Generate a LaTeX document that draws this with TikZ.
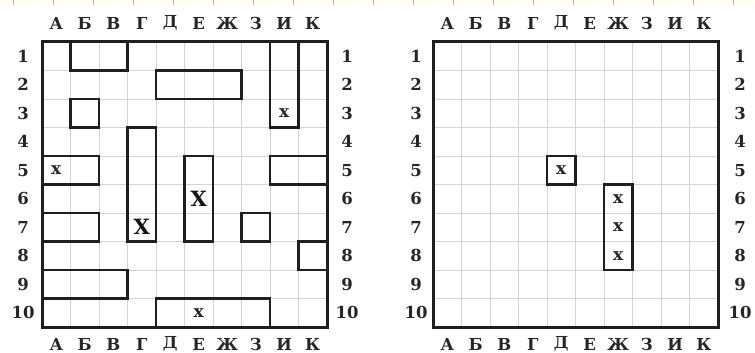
\documentclass[tikz,border=0pt]{standalone}
\usepackage{fontspec}
\newfontfamily\labfont{DejaVu Serif}
\begin{document}
\begin{tikzpicture}[x=1pt,y=-1pt,
  lab/.style={font=\labfont\bfseries\fontsize{16.5}{16.5}\selectfont, text=black!85, inner sep=0pt},
  gridline/.style={draw=black!17, line width=0.8pt},
  frame/.style={draw=black!88, line width=3pt},
  ship/.style={draw=black!88, line width=2.5pt},
  hit/.style={font=\labfont\bfseries\fontsize{17}{17}\selectfont, text=black!85, inner sep=0pt},
  bighit/.style={font=\labfont\bfseries\fontsize{21}{21}\selectfont, text=black!92, inner sep=0pt},
  paper/.style={fill=yellow!6!white, draw=none},
  papertick/.style={draw=black!25, line width=0.7pt}]
\useasboundingbox (0,0) rectangle (755,353);
% faint notebook paper strip at the top
\fill[paper] (0,0) rectangle (755,5);
\foreach \k in {0,...,18} \draw[papertick] ({13+40*\k},0) -- ({13+40*\k},5);
\def\cs{28.5}
% ---------- grids ----------
\foreach \gx/\g in {42/L,433/R}{
  \foreach \i in {1,...,9}{
    \draw[gridline] ({\gx+\i*\cs},42) -- ({\gx+\i*\cs},{42+10*\cs});
    \draw[gridline] (\gx,{42+\i*\cs}) -- ({\gx+10*\cs},{42+\i*\cs});
  }
}
% ---------- labels ----------
\foreach \l [count=\i] in {А,Б,В,Г,Д,Е,Ж,З,И,К}{
  \node[lab] (Ltop\i) at ({42+(\i-0.5)*\cs},23) {\l};
  \node[lab] (Lbot\i) at ({42+(\i-0.5)*\cs},344) {\l};
  \node[lab] (Rtop\i) at ({433+(\i-0.5)*\cs},23) {\l};
  \node[lab] (Rbot\i) at ({433+(\i-0.5)*\cs},344) {\l};
}
\foreach \i in {1,...,10}{
  \node[lab] (Lleft\i) at (23,{42+(\i-0.5)*\cs}) {\i};
  \node[lab] (Lright\i) at (347,{42+(\i-0.5)*\cs}) {\i};
  \node[lab] (Rleft\i) at (416,{42+(\i-0.5)*\cs}) {\i};
  \node[lab] (Rright\i) at (740,{42+(\i-0.5)*\cs}) {\i};
}
% ---------- ships, left grid ----------
\foreach \ca/\ra/\cb/\rb in {2/1/3/1, 5/2/7/2, 9/1/9/3, 2/3/2/3, 4/4/4/7, 6/5/6/7,
                             1/5/2/5, 9/5/10/5, 1/7/2/7, 8/7/8/7, 10/8/10/8, 1/9/3/9, 5/10/8/10}{
  \draw[ship] ({42+(\ca-1)*\cs},{42+(\ra-1)*\cs}) rectangle ({42+\cb*\cs},{42+\rb*\cs});
}
% ---------- ships, right grid ----------
\foreach \ca/\ra/\cb/\rb in {5/5/5/5, 7/6/7/8}{
  \draw[ship] ({433+(\ca-1)*\cs},{42+(\ra-1)*\cs}) rectangle ({433+\cb*\cs},{42+\rb*\cs});
}
% ---------- frames ----------
\draw[frame] (42,42) rectangle ({42+10*\cs},{42+10*\cs});
\draw[frame] (433,42) rectangle ({433+10*\cs},{42+10*\cs});
% ---------- hits ----------
\foreach \c/\r [count=\n] in {9/3, 1/5, 6/10}{
  \node[hit] (Lhit\n) at ({42+(\c-0.5)*\cs},{42+(\r-0.5)*\cs}) {x};
}
\foreach \c/\r [count=\n] in {4/7, 6/6}{
  \node[bighit] (Lbig\n) at ({42+(\c-0.5)*\cs},{42+(\r-0.5)*\cs}) {X};
}
\foreach \c/\r [count=\n] in {5/5, 7/6, 7/7, 7/8}{
  \node[hit] (Rhit\n) at ({433+(\c-0.5)*\cs},{42+(\r-0.5)*\cs}) {x};
}
\end{tikzpicture}
\end{document}
